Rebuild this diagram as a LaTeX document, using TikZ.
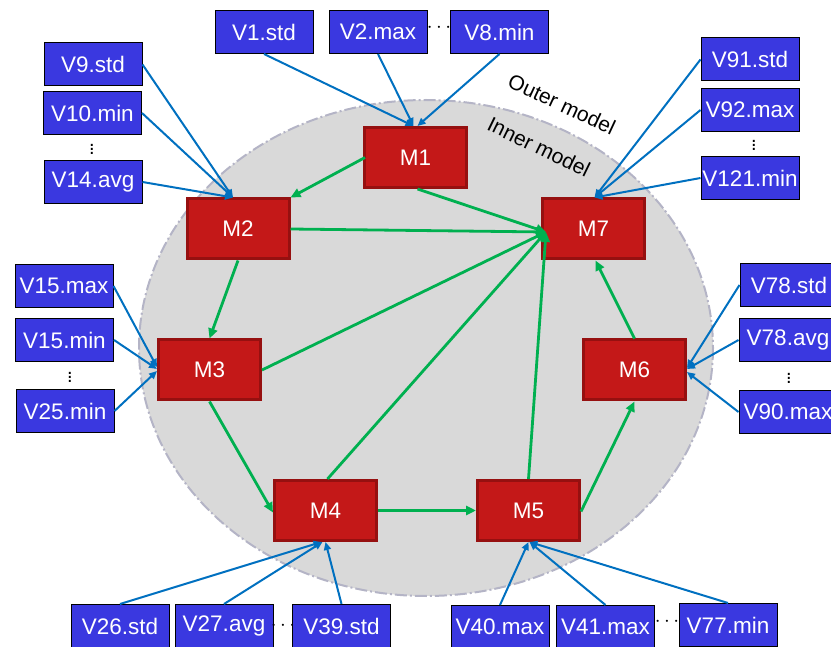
\documentclass[tikz,border=0pt]{standalone}
\usepackage{fontspec}
\setmainfont{Liberation Sans}
\usetikzlibrary{arrows.meta}
\definecolor{vblue}{RGB}{58,56,224}
\definecolor{mred}{RGB}{196,24,24}
\definecolor{mredb}{RGB}{150,16,16}
\definecolor{ablue}{RGB}{0,112,192}
\definecolor{agreen}{RGB}{0,176,80}
\definecolor{egray}{RGB}{217,217,217}
\definecolor{edash}{RGB}{180,180,198}
\tikzset{
  vbox/.style={draw=black, line width=1pt, fill=vblue, text=white, minimum width=98pt, minimum height=43pt, inner sep=0pt, font=\fontsize{22.5}{24}\selectfont},
  mbox/.style={draw=mredb, line width=3pt, fill=mred, text=white, minimum width=102pt, minimum height=60pt, inner sep=0pt, font=\fontsize{22.5}{24}\selectfont},
  barrow/.style={draw=ablue, line width=2pt, -{Triangle[length=8pt,width=7pt]}},
  garrow/.style={draw=agreen, line width=2.8pt, -{Triangle[length=10pt,width=9pt]}},
  dotsh/.style={inner sep=0pt, font=\fontsize{20}{20}\selectfont},
  lbl/.style={inner sep=0pt, font=\fontsize{21}{22}\selectfont},
}
\begin{document}
\begin{tikzpicture}[x=1pt,y=-1pt]
\useasboundingbox (0,0) rectangle (831,647);
\clip (0,0) rectangle (831,647);
% ellipse
\draw[fill=egray, draw=edash, line width=2pt, dash pattern=on 12pt off 3pt on 2pt off 3pt] (426,348) ellipse [x radius=287, y radius=248];
% labels
\node[lbl, rotate=-25] (outer) at (562,104) {Outer model};
\node[lbl, rotate=-26] (inner) at (539,147) {Inner model};
% M nodes
\node[mbox] (M1) at (415.5,157.5) {M1};
\node[mbox] (M2) at (238,229) {M2};
\node[mbox] (M3) at (209.5,370) {M3};
\node[mbox] (M4) at (325.5,510.5) {M4};
\node[mbox] (M5) at (528.5,510.5) {M5};
\node[mbox] (M6) at (634.5,370) {M6};
\node[mbox] (M7) at (593.5,229) {M7};
% V nodes top
\node[vbox] (V1) at (264,32) {V1.std};
\node[vbox] (V2) at (378,32) {V2.max};
\node[dotsh] (d1) at (439,28) {$\cdots$};
\node[vbox] (V8) at (499.5,32) {V8.min};
% left upper
\node[vbox] (V9) at (93,64.5) {V9.std};
\node[vbox] (V10) at (92.5,113) {V10.min};
\node[dotsh] (d2) at (92,146) {$\vdots$};
\node[vbox] (V14) at (93,182) {V14.avg};
% left lower
\node[vbox] (V15a) at (64,286) {V15.max};
\node[vbox] (V15b) at (64.5,340) {V15.min};
\node[dotsh] (d3) at (70,374) {$\vdots$};
\node[vbox] (V25) at (65,411) {V25.min};
% right upper
\node[vbox] (V91) at (750,59.5) {V91.std};
\node[vbox] (V92) at (750,110) {V92.max};
\node[dotsh] (d4) at (754,142) {$\vdots$};
\node[vbox] (V121) at (750,178) {V121.min};
% right lower
\node[vbox] (V78a) at (789,285) {V78.std};
\node[vbox] (V78b) at (788,340) {V78.avg};
\node[dotsh] (d5) at (789,375) {$\vdots$};
\node[vbox] (V90) at (788,412) {V90.max};
% bottom left
\node[vbox] (V26) at (120,626) {V26.std};
\node[vbox] (V27) at (224,626) {V27.avg};
\node[dotsh] (d6) at (283,626) {$\cdots$};
\node[vbox] (V39) at (341.5,626) {V39.std};
% bottom right
\node[vbox] (V40) at (500,627) {V40.max};
\node[vbox] (V41) at (605.5,627) {V41.max};
\node[dotsh] (d7) at (667,622) {$\cdots$};
\node[vbox] (V77) at (728,625) {V77.min};
% hub
\coordinate (hub) at (546,232);
% blue arrows
\draw[barrow] (V1.south) -- ([xshift=-2pt]M1.north);
\draw[barrow] (V2.south) -- ([xshift=-2pt]M1.north);
\draw[barrow] (V8.south) -- ([xshift=2pt]M1.north);
\draw[barrow] (V9.east) -- ([xshift=-5pt]M2.north);
\draw[barrow] (V10.east) -- ([xshift=-5pt]M2.north);
\draw[barrow] (V14.east) -- ([xshift=-5pt]M2.north);
\draw[barrow] (V15a.east) -- ([yshift=3pt]M3.west);
\draw[barrow] (V15b.east) -- ([yshift=1pt]M3.west);
\draw[barrow] (V25.east) -- ([yshift=-1pt]M3.west);
\draw[barrow] (V91.west) -- ([xshift=1pt]M7.north);
\draw[barrow] (V92.west) -- ([xshift=1pt]M7.north);
\draw[barrow] (V121.west) -- ([xshift=1pt]M7.north);
\draw[barrow] (V78a.west) -- ([yshift=2pt]M6.east);
\draw[barrow] (V78b.west) -- ([yshift=1pt]M6.east);
\draw[barrow] (V90.west) -- ([yshift=-2pt]M6.east);
\draw[barrow] (V26.north) -- ([xshift=-4pt]M4.south);
\draw[barrow] (V27.north) -- ([xshift=-3pt]M4.south);
\draw[barrow] (V39.north) -- (M4.south);
\draw[barrow] (V40.north) -- (M5.south);
\draw[barrow] (V41.north) -- ([xshift=1pt]M5.south);
\draw[barrow] (V77.north) -- ([xshift=1pt]M5.south);
% green arrows
\draw[garrow] ([xshift=2pt]M1.west) -- (M2.north east);
\draw[garrow] ([xshift=2pt]M1.south) -- (hub);
\draw[garrow] (M2.east) -- (hub);
\draw[garrow] (M3.east) -- (hub);
\draw[garrow] ([xshift=2pt]M4.north) -- (hub);
\draw[garrow] (M5.north) -- (hub);
\draw[garrow] (M2.south) -- (M3.north);
\draw[garrow] (M3.south) -- ([yshift=-2pt]M4.west);
\draw[garrow] (M4.east) -- (M5.west);
\draw[garrow] ([yshift=-1pt]M5.east) -- (M6.south);
\draw[garrow] (M6.north) -- ([xshift=2pt]M7.south);
\end{tikzpicture}
\end{document}
